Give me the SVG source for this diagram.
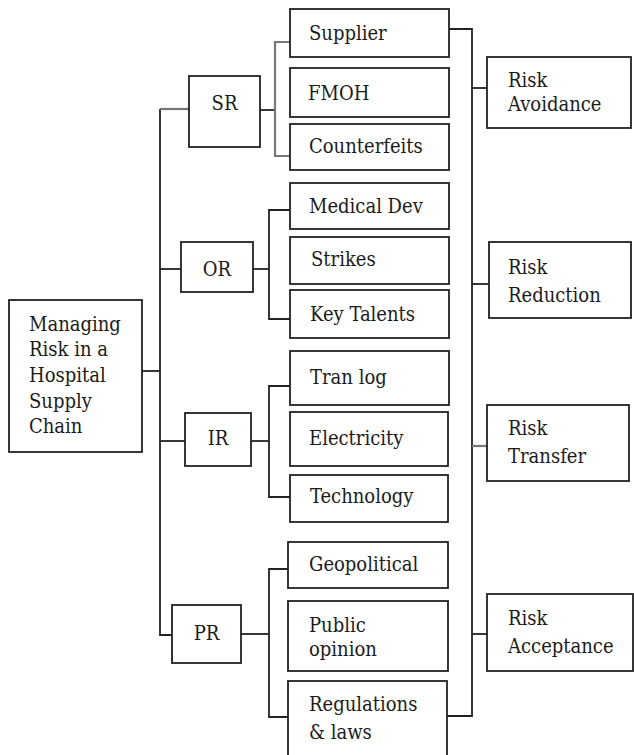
<svg xmlns="http://www.w3.org/2000/svg" width="634" height="755" viewBox="0 0 634 755">
  <style>
    .box { fill: #ffffff; stroke: #222222; stroke-width: 1.8; }
    .lbl { font-family: "DejaVu Serif Condensed", "DejaVu Serif", serif; font-stretch: condensed; font-size: 20px; fill: #1a1a1a; }
    .c { fill: none; stroke: #222222; stroke-width: 1.8; }
    .cg { fill: none; stroke: #777777; stroke-width: 2.2; }
  </style>
  <rect width="634" height="755" fill="#ffffff"/>

  <!-- connectors -->
  <g id="connectors">
    <!-- trunk from root to the four risk categories -->
    <path class="c" d="M142 371 H160"/>
    <path class="c" d="M160 109 V635 H172"/>
    <path class="cg" d="M160 109 H189"/>
    <path class="c" d="M160 269 H181"/>
    <path class="c" d="M160 441 H185"/>
    <!-- SR branch -->
    <path class="c" d="M260 110 H275"/>
    <path class="cg" d="M290 42 H275 V156 H290"/>
    <!-- OR branch -->
    <path class="c" d="M253 269 H269"/>
    <path class="c" d="M290 210 H269 V319 H290"/>
    <!-- IR branch -->
    <path class="c" d="M251 441 H269"/>
    <path class="c" d="M290 386 H269 V497 H290"/>
    <!-- PR branch -->
    <path class="c" d="M241 634 H269"/>
    <path class="c" d="M289 569 H269 V717 H289"/>
    <!-- right collector to responses -->
    <path class="c" d="M449 29 H472 V716 H447"/>
    <path class="c" d="M472 88 H487"/>
    <path class="c" d="M472 284 H489"/>
    <path class="cg" d="M472 446 H487"/>
    <path class="c" d="M472 634 H487"/>
  </g>

  <!-- root -->
  <g id="root">
    <rect class="box" x="9" y="300" width="133" height="152"/>
    <text class="lbl" x="29" y="331">Managing</text>
    <text class="lbl" x="29" y="356">Risk in a</text>
    <text class="lbl" x="29" y="382">Hospital</text>
    <text class="lbl" x="29" y="408">Supply</text>
    <text class="lbl" x="29" y="433">Chain</text>
  </g>

  <!-- risk categories -->
  <g id="sr">
    <rect class="box" x="189" y="76" width="71" height="71"/>
    <text class="lbl" x="224.5" y="110" text-anchor="middle">SR</text>
  </g>
  <g id="or">
    <rect class="box" x="181" y="242" width="72" height="50"/>
    <text class="lbl" x="217" y="276" text-anchor="middle">OR</text>
  </g>
  <g id="ir">
    <rect class="box" x="185" y="413" width="66" height="53"/>
    <text class="lbl" x="218" y="445" text-anchor="middle">IR</text>
  </g>
  <g id="pr">
    <rect class="box" x="172" y="605" width="69" height="58"/>
    <text class="lbl" x="206.5" y="640" text-anchor="middle">PR</text>
  </g>

  <!-- risk sources -->
  <g id="supplier">
    <rect class="box" x="290" y="9" width="159" height="48"/>
    <text class="lbl" x="309" y="40">Supplier</text>
  </g>
  <g id="fmoh">
    <rect class="box" x="290" y="68" width="159" height="49"/>
    <text class="lbl" x="308" y="100">FMOH</text>
  </g>
  <g id="counterfeits">
    <rect class="box" x="290" y="124" width="159" height="46"/>
    <text class="lbl" x="309" y="153">Counterfeits</text>
  </g>
  <g id="medical-dev">
    <rect class="box" x="290" y="183" width="159" height="46"/>
    <text class="lbl" x="309" y="213">Medical Dev</text>
  </g>
  <g id="strikes">
    <rect class="box" x="290" y="237" width="159" height="47"/>
    <text class="lbl" x="311" y="266">Strikes</text>
  </g>
  <g id="key-talents">
    <rect class="box" x="290" y="290" width="159" height="48"/>
    <text class="lbl" x="310" y="321">Key Talents</text>
  </g>
  <g id="tran-log">
    <rect class="box" x="290" y="351" width="159" height="54"/>
    <text class="lbl" x="310" y="384">Tran log</text>
  </g>
  <g id="electricity">
    <rect class="box" x="290" y="412" width="158" height="54"/>
    <text class="lbl" x="309" y="445">Electricity</text>
  </g>
  <g id="technology">
    <rect class="box" x="290" y="475" width="158" height="47"/>
    <text class="lbl" x="310" y="503">Technology</text>
  </g>
  <g id="geopolitical">
    <rect class="box" x="288" y="542" width="160" height="46"/>
    <text class="lbl" x="309" y="571">Geopolitical</text>
  </g>
  <g id="public-opinion">
    <rect class="box" x="288" y="601" width="160" height="70"/>
    <text class="lbl" x="309" y="632">Public</text>
    <text class="lbl" x="309" y="656">opinion</text>
  </g>
  <g id="regulations">
    <rect class="box" x="288" y="681" width="159" height="90"/>
    <text class="lbl" x="309" y="711">Regulations</text>
    <text class="lbl" x="309" y="739">&amp; laws</text>
  </g>

  <!-- responses -->
  <g id="risk-avoidance">
    <rect class="box" x="487" y="57" width="144" height="71"/>
    <text class="lbl" x="508" y="87">Risk</text>
    <text class="lbl" x="508" y="111">Avoidance</text>
  </g>
  <g id="risk-reduction">
    <rect class="box" x="489" y="242" width="142" height="76"/>
    <text class="lbl" x="508" y="274">Risk</text>
    <text class="lbl" x="508" y="302">Reduction</text>
  </g>
  <g id="risk-transfer">
    <rect class="box" x="487" y="405" width="142" height="76"/>
    <text class="lbl" x="508" y="435">Risk</text>
    <text class="lbl" x="508" y="463">Transfer</text>
  </g>
  <g id="risk-acceptance">
    <rect class="box" x="487" y="594" width="146" height="77"/>
    <text class="lbl" x="508" y="625">Risk</text>
    <text class="lbl" x="508" y="653">Acceptance</text>
  </g>
</svg>
